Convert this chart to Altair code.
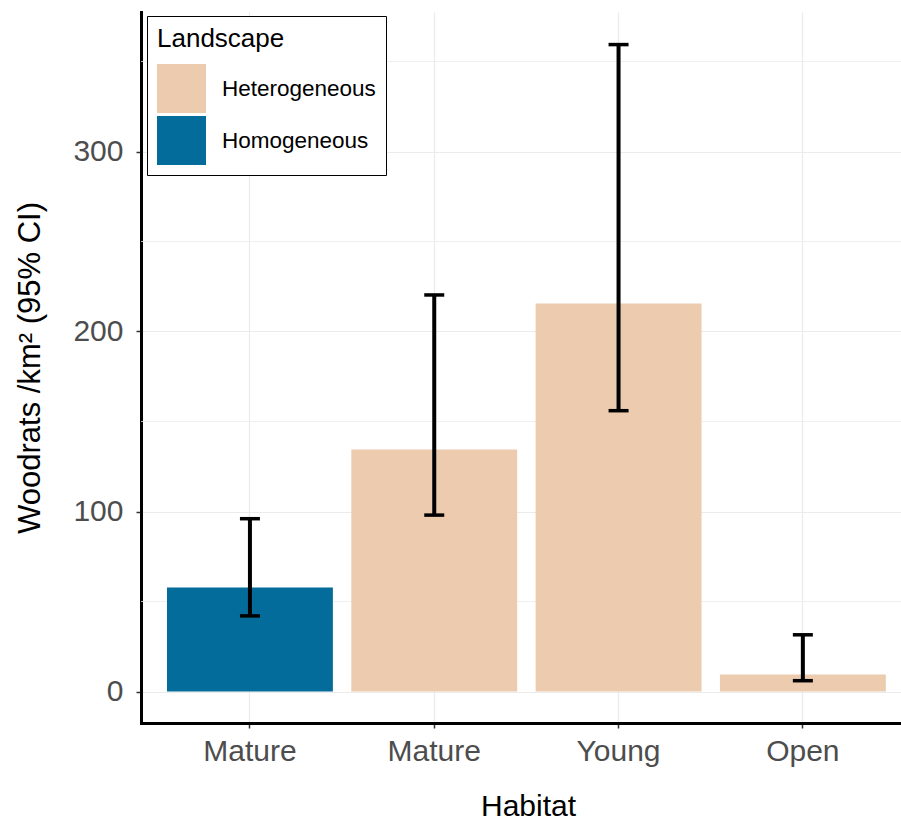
import altair as alt
import pandas as pd

# ---- data ----
habitat = ["Mature", "Mature", "Young", "Open"]
landscape = ["Homogeneous", "Heterogeneous", "Heterogeneous", "Heterogeneous"]
density = [57.8, 134.4, 215.5, 9.4]
ci_low = [42.0, 98.0, 156.0, 6.0]
ci_high = [96.0, 220.3, 359.4, 31.5]
landscape_levels = ["Heterogeneous", "Homogeneous"]
landscape_colors = ["#ECCBAE", "#046C9A"]
y_major = [0, 100, 200, 300]
y_minor = [50, 150, 250, 350]

keys = [f"{i}|{h}" for i, h in enumerate(habitat)]
df = pd.DataFrame(dict(key=keys, habitat=habitat, landscape=landscape,
                       density=density, lo=ci_low, hi=ci_high))
minor_df = pd.DataFrame({"v": y_minor})

FONT = "Liberation Sans"
W, H = 760, 711
GRID = "#EBEBEB"

xscale = alt.Scale(domain=keys, paddingInner=0.1, paddingOuter=0.1118, align=0.631)
yscale = alt.Scale(domain=[-17.5, 377.5], nice=False, zero=False)

xaxis = alt.Axis(
    title="Habitat", labelExpr="split(datum.label, '|')[1]", labelAngle=0,
    grid=True, gridColor=GRID, gridWidth=1.2,
    domainColor="black", domainWidth=3, domainCap="square",
    tickColor="#333333", tickSize=5, tickWidth=1.5,
    labelFont=FONT, labelFontSize=30, labelColor="#4D4D4D", labelPadding=8,
    titleFont=FONT, titleFontSize=30, titleColor="black", titleFontWeight="normal",
    titleX=387, titleY=92, titleAlign="center", titleBaseline="alphabetic",
)
yaxis = alt.Axis(
    title="Woodrats /km² (95% CI)", values=y_major,
    grid=True, gridColor=GRID, gridWidth=1.2,
    domainColor="black", domainWidth=3, domainCap="square",
    tickColor="#333333", tickSize=5, tickWidth=1.5,
    labelFont=FONT, labelFontSize=30, labelColor="#4D4D4D", labelPadding=13,
    titleFont=FONT, titleFontSize=31, titleColor="black", titleFontWeight="normal",
    titleX=-111, titleY=H / 2, titleAngle=270, titleAlign="center", titleBaseline="middle",
)

X = alt.X("key:N", scale=xscale, sort=keys, axis=xaxis)

minor = alt.Chart(minor_df).mark_rule(color=GRID, strokeWidth=0.8).encode(
    y=alt.Y("v:Q", scale=yscale, axis=yaxis)
)

bars = alt.Chart(df).mark_bar().encode(
    x=X,
    y=alt.Y("density:Q", scale=yscale, axis=yaxis),
    y2=alt.datum(0),
    color=alt.Color(
        "landscape:N",
        scale=alt.Scale(domain=landscape_levels, range=landscape_colors),
        legend=alt.Legend(
            title="Landscape", orient="none", legendX=6, legendY=4,
            padding=10, strokeColor="black", fillColor="white",
            symbolType="square", symbolSize=2401, symbolStrokeWidth=0, symbolOpacity=1,
            labelOffset=16, rowPadding=3, titlePadding=12,
            titleFont=FONT, titleFontSize=26, titleColor="black", titleFontWeight="normal",
            labelFont=FONT, labelFontSize=22.5, labelColor="black",
        ),
    ),
)

rules = alt.Chart(df).mark_rule(color="black", strokeWidth=4).encode(
    x=X,
    y=alt.Y("lo:Q", scale=yscale, axis=yaxis),
    y2="hi:Q",
)

caps_lo = alt.Chart(df).mark_tick(color="black", thickness=3.5, size=20, opacity=1).encode(
    x=X, y=alt.Y("lo:Q", scale=yscale, axis=yaxis)
)
caps_hi = alt.Chart(df).mark_tick(color="black", thickness=3.5, size=20, opacity=1).encode(
    x=X, y=alt.Y("hi:Q", scale=yscale, axis=yaxis)
)

chart = alt.layer(minor, bars, rules, caps_lo, caps_hi).properties(
    width=W, height=H,
    autosize=alt.AutoSizeParams(type="none"),
    padding={"left": 141, "top": 12, "right": 0, "bottom": 98},
    background="white",
).configure_view(stroke=None)

chart.save("out.html", embed_options={"renderer": "svg", "actions": False})
